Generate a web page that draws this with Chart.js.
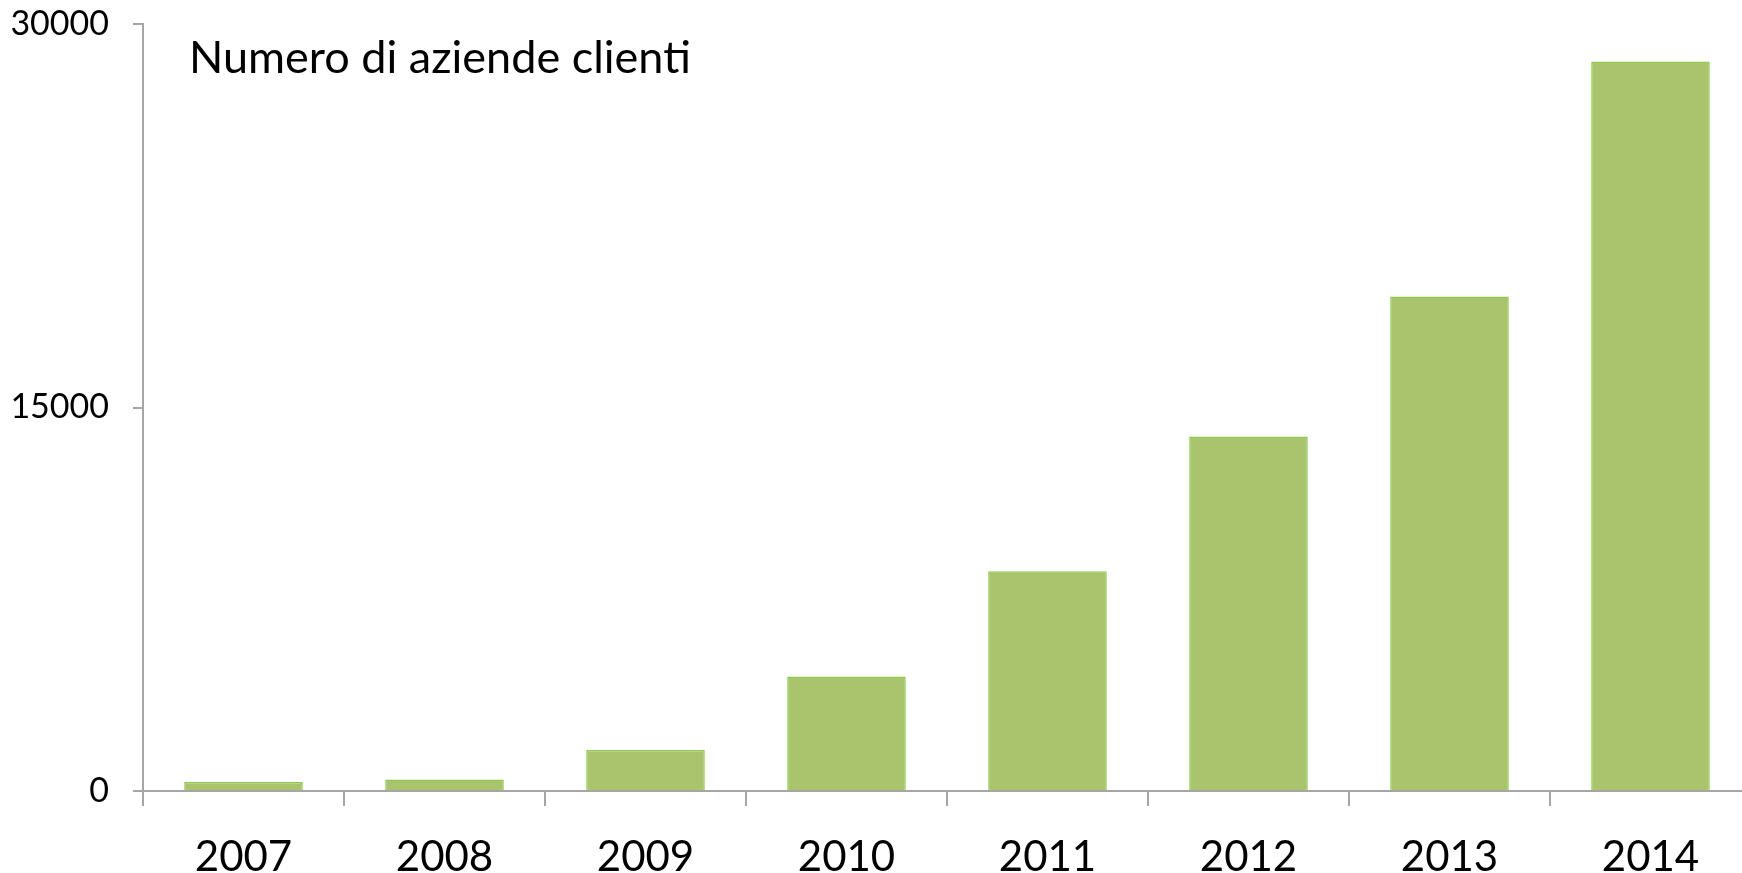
<!DOCTYPE html>
<html>
<head>
<meta charset="utf-8">
<script src="https://cdn.jsdelivr.net/npm/chart.js@4/dist/chart.umd.min.js"></script>
<style>
  html, body { margin: 0; padding: 0; background: #ffffff; overflow: hidden; }
  #wrap { position: relative; width: 1760px; height: 873px; }
</style>
</head>
<body>
<div id="wrap"><canvas id="c"></canvas></div>
<script>
const categories = ['2007', '2008', '2009', '2010', '2011', '2012', '2013', '2014'];
const clienti = [350, 450, 1600, 4480, 8600, 13870, 19340, 28530];
const yTicks = [0, 15000, 30000];
const titleText = 'Numero di aziende clienti';

const FONT = 'Lato, "Open Sans", sans-serif';
const AXIS = '#a6a6a6';

const innerTitle = {
  id: 'innerTitle',
  afterDraw(chart) {
    const ctx = chart.ctx;
    const a = chart.chartArea;
    ctx.save();
    ctx.font = '45px ' + FONT;
    ctx.fillStyle = '#000000';
    ctx.textBaseline = 'middle';
    ctx.textAlign = 'left';
    ctx.fillText(titleText, a.left + 46, 58);
    ctx.restore();
  }
};

new Chart(document.getElementById('c'), {
  type: 'bar',
  data: {
    labels: categories,
    datasets: [{
      label: titleText,
      data: clienti,
      backgroundColor: '#a9c46c',
      borderColor: '#8dca4e',
      borderWidth: 1.5,
      barPercentage: 0.59,
      categoryPercentage: 1.0
    }]
  },
  options: {
    responsive: true,
    maintainAspectRatio: false,
    animation: false,
    layout: { padding: { top: 24, right: 9, left: 0, bottom: 0 } },
    plugins: {
      legend: { display: false },
      tooltip: { enabled: false }
    },
    scales: {
      x: {
        offset: true,
        grid: { display: true, offset: true, drawOnChartArea: false, drawTicks: true, tickLength: 15, color: AXIS, lineWidth: 2 },
        border: { display: true, color: AXIS, width: 2 },
        ticks: { color: '#000000', font: { family: FONT, size: 42 }, padding: 26, maxRotation: 0 },
        afterFit(s) { s.height = 82; s.paddingLeft = 0; s.paddingRight = 0; }
      },
      y: {
        min: 0,
        max: 30000,
        afterBuildTicks(s) { s.ticks = yTicks.map(v => ({ value: v })); },
        grid: { display: true, drawOnChartArea: false, drawTicks: true, tickLength: 10, color: AXIS, lineWidth: 2 },
        border: { display: true, color: AXIS, width: 2 },
        ticks: { color: '#000000', font: { family: FONT, size: 34 }, padding: 24, callback: v => String(v) },
        afterFit(s) { s.width = 143; s.paddingTop = 0; s.paddingBottom = 0; }
      }
    }
  },
  plugins: [innerTitle]
});
</script>
</body>
</html>
